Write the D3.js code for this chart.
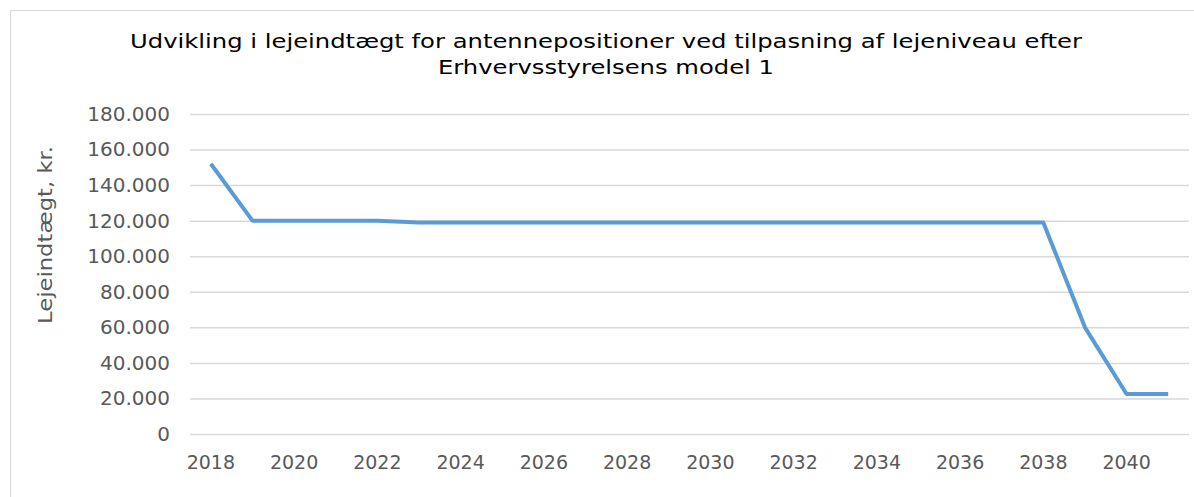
<!DOCTYPE html>
<html><head><meta charset="utf-8">
<script src="https://cdn.jsdelivr.net/npm/d3@7"></script>
<style>body{margin:0;background:#fff}svg{display:block}</style>
</head><body>
<script>
const years = ["2018","2019","2020","2021","2022","2023","2024","2025","2026","2027","2028","2029","2030","2031","2032","2033","2034","2035","2036","2037","2038","2039","2040","2041"];
const values = [152000,120000,120000,120000,120000,119000,119000,119000,119000,119000,119000,119000,119000,119000,119000,119000,119000,119000,119000,119000,119000,60000,22500,22500];
const yTicks = [0,20000,40000,60000,80000,100000,120000,140000,160000,180000];
const xTickLabels = ["2018","2020","2022","2024","2026","2028","2030","2032","2034","2036","2038","2040"];
const titleLines = ["Udvikling  i lejeindtægt  for antennepositioner  ved tilpasning  af lejeniveau  efter","Erhvervsstyrelsens  model  1"];
const yTitle = "Lejeindtægt, kr.";

const W=1194,H=497;
const svg=d3.select("body").append("svg").attr("width",W).attr("height",H);
svg.append("rect").attr("x",10.5).attr("y",10.5).attr("width",W).attr("height",H).attr("fill","#fff").attr("stroke","#d9d9d9");

const x=d3.scaleBand().domain(years).range([190,1189]);
const y=d3.scaleLinear().domain([0,180000]).range([434,114]);
const font="'DejaVu Sans', Verdana, sans-serif";

const fmt=v=>v===0?"0":d3.format(",")(v).replace(/,/g,".");

const ya=svg.append("g").attr("transform","translate(190,0)")
  .call(d3.axisLeft(y).tickValues(yTicks).tickSize(-999).tickFormat(fmt).tickPadding(20));
ya.select(".domain").remove();
ya.selectAll(".tick line").attr("stroke","#d9d9d9").attr("stroke-width",1.5);
ya.selectAll(".tick text").attr("fill","#595959").style("font-family",font).style("font-size","20px");

const xa=svg.append("g").attr("transform","translate(0,434)")
  .call(d3.axisBottom(x).tickValues(xTickLabels).tickSize(0).tickPadding(22));
xa.select(".domain").remove();
xa.selectAll(".tick text").attr("fill","#595959").style("font-family",font).style("font-size","19px");

const line=d3.line().x((d,i)=>x(years[i])+x.bandwidth()/2).y(d=>y(d));
svg.append("path").datum(values).attr("d",line).attr("fill","none")
  .attr("stroke","#5b9bd5").attr("stroke-width",4).attr("stroke-linejoin","round");

svg.append("text").attr("transform","translate(52,235) rotate(-90)").attr("text-anchor","middle")
  .attr("textLength",178).attr("lengthAdjust","spacingAndGlyphs")
  .attr("fill","#595959").style("font-family",font).style("font-size","19px").text(yTitle);

const tl=[952,336];
svg.selectAll(".title").data(titleLines).enter().append("text")
  .attr("x",606).attr("y",(d,i)=>48+i*26).attr("text-anchor","middle")
  .attr("textLength",(d,i)=>tl[i]).attr("lengthAdjust","spacingAndGlyphs")
  .attr("fill","#000").style("font-family",font).style("font-size","19px").text(d=>d);
</script>
</body></html>
